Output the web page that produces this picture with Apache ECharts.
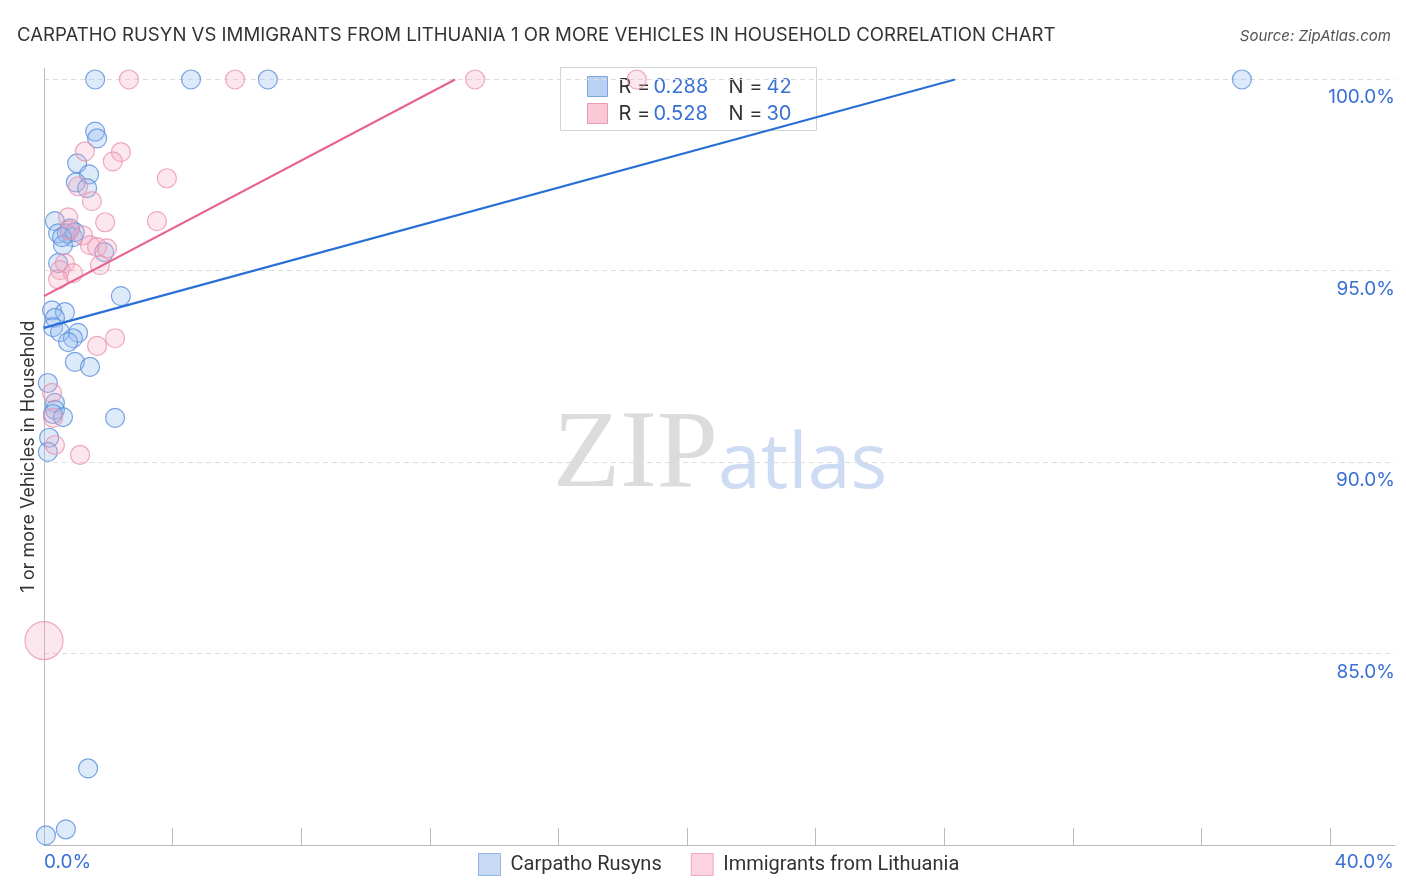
<!DOCTYPE html>
<html>
<head>
<meta charset="utf-8">
<script src="https://cdn.jsdelivr.net/npm/echarts@6/dist/echarts.min.js"></script>
<style>html,body{margin:0;padding:0;background:#fff}#c{width:1406px;height:892px}</style>
</head>
<body>
<div id="c"></div>
<script>
const seriesNames = ['Carpatho Rusyns', 'Immigrants from Lithuania'];
const blueX = [1.59,4.57,6.96,37.24,1.59,1.65,1.03,1.40,0.99,1.34,0.34,0.44,0.81,0.71,0.90,0.59,1.87,0.44,2.39,0.25,0.65,0.34,0.28,0.50,1.06,0.90,0.75,0.96,1.43,0.12,0.34,0.34,0.28,0.59,2.21,0.16,0.12,1.37,0.68,0.06,0.96,0.56];
const blueY = [100,100,100,100,98.64,98.46,97.81,97.52,97.31,97.16,96.30,95.98,96.11,95.98,95.88,95.67,95.49,95.20,94.34,93.97,93.92,93.77,93.53,93.40,93.38,93.24,93.14,92.62,92.49,92.07,91.55,91.37,91.26,91.18,91.16,90.64,90.27,82.00,80.41,80.25,96.01,95.88];
const pinkX = [2.64,5.94,13.40,18.43,1.27,2.39,2.14,3.82,1.06,1.49,0.75,3.51,1.90,0.78,1.21,1.43,1.65,1.96,1.74,0.65,0.50,0.90,0.44,1.65,2.21,0.25,0.28,0.34,1.12,0.0];
const pinkY = [100,100,100,100,98.12,98.10,97.86,97.42,97.21,96.82,96.40,96.30,96.27,96.06,95.93,95.67,95.62,95.59,95.15,95.20,95.02,94.94,94.78,93.04,93.24,91.81,91.16,90.45,90.19,85.34];
const pinkBig = [29]; // index of the large bubble
const blueFitX = [0, 28.32], blueFitY = [93.51, 100];
const pinkFitX = [0, 12.78], pinkFitY = [94.34, 100];
const yTicks = [80, 85, 90, 95, 100];
const yTickLabels = ['', '85.0%', '90.0%', '95.0%', '100.0%'];
const xTickLabels = ['0.0%', '40.0%'];
const statsR = ['0.288', '0.528'];
const statsN = ['42', '30'];

const BLUE = '#3a70d4';
const zip = (xs, ys) => xs.map((x, i) => [x, ys[i]]);

const chart = echarts.init(document.getElementById('c'), null, {renderer: 'canvas'});
const font = 'Inter, Roboto, "DejaVu Sans", sans-serif';

const option = {
  animation: false,
  backgroundColor: '#fff',
  textStyle: {fontFamily: font},
  title: [
    {text: 'CARPATHO RUSYN VS IMMIGRANTS FROM LITHUANIA 1 OR MORE VEHICLES IN HOUSEHOLD CORRELATION CHART',
     left: 12, top: 21, textStyle: {fontSize: 18.6, fontWeight: 'normal', color: '#333', fontFamily: font}},
    {text: 'Source: ZipAtlas.com', right: 10, top: 24,
     textStyle: {fontSize: 15, fontWeight: 'normal', fontStyle: 'italic', color: '#555', fontFamily: font}}
  ],
  legend: {
    left: 473, top: 848, itemWidth: 22, itemHeight: 22, itemGap: 29,
    icon: 'rect',
    textStyle: {fontSize: 20, color: '#333', fontFamily: 'Roboto, sans-serif', padding: [0, 0, 0, 5]},
    data: [
      {name: seriesNames[0], itemStyle: {color: '#b9d1f3', borderColor: '#7fa6e2', borderWidth: 1}},
      {name: seriesNames[1], itemStyle: {color: '#fbc8d8', borderColor: '#eb9ab4', borderWidth: 1}}
    ]
  },
  grid: [
    {left: 44, right: 11, top: 68, bottom: 47},
    {left: 44, right: 11, top: 79, bottom: 47},
    {left: 44, right: 76, top: 68, bottom: 47}
  ],
  xAxis: [
    {gridIndex: 0, type: 'value', min: 0, max: 42, axisLine: {show: true, lineStyle: {color: '#bbb', width: 1}},
     axisTick: {show: false}, axisLabel: {show: false}, splitLine: {show: false}},
    {gridIndex: 1, type: 'value', min: 0, max: 42, show: false},
    {gridIndex: 2, type: 'value', min: 0, max: 40, interval: 4, axisLine: {show: false},
     axisTick: {show: true, inside: true, length: 17, lineStyle: {color: '#bbb', width: 1}},
     axisLabel: {show: false}, splitLine: {show: false}}
  ],
  yAxis: [
    {gridIndex: 0, type: 'value', min: 80, max: 100.3, axisLine: {show: true, lineStyle: {color: '#bbb', width: 1}},
     axisTick: {show: false}, axisLabel: {show: false}, splitLine: {show: false},
     name: '1 or more Vehicles in Household', nameLocation: 'middle', nameGap: 6, nameRotate: 90,
     nameTextStyle: {fontSize: 18, color: '#333', fontFamily: font}},
    {gridIndex: 1, type: 'value', position: 'right', min: 80, max: 100, interval: 5,
     axisLine: {show: false}, axisTick: {show: false},
     splitLine: {show: true, lineStyle: {color: '#ddd', type: [5, 4], width: 1}},
     axisLabel: {inside: true, margin: 0, fontSize: 19, color: BLUE, verticalAlign: 'top', padding: [9, 0, 0, 0],
       formatter: v => { const i = yTicks.indexOf(v); return i >= 0 ? yTickLabels[i] : ''; }}},
    {gridIndex: 2, type: 'value', min: 80, max: 100.3, show: false}
  ],
  graphic: [
    {type: 'text', left: 553, top: 402, z: 0, style: {text: 'ZIP', fontSize: 110, fontFamily: '"Liberation Serif", "DejaVu Serif", serif', fill: '#dcdcdc'}},
    {type: 'text', left: 718, top: 428, z: 0, style: {text: 'atlas', fontSize: 77, fontFamily: '"Open Sans", sans-serif', fill: '#cddcf2'}},
    {type: 'text', left: 44, top: 853, style: {text: xTickLabels[0], fontSize: 19, fill: BLUE, fontFamily: font}},
    {type: 'text', right: 12, top: 853, style: {text: xTickLabels[1], fontSize: 19, fill: BLUE, fontFamily: font}},
    {type: 'group', left: 560, top: 67, z: 100, children: [
      {type: 'rect', shape: {x: 0, y: 0, width: 256, height: 63}, style: {fill: 'rgba(255,255,255,0.85)', stroke: '#d4d4d4', lineWidth: 1}},
      {type: 'rect', shape: {x: 27, y: 9, width: 20, height: 20}, style: {fill: '#b9d1f3', stroke: '#7fa6e2', lineWidth: 1}},
      {type: 'rect', shape: {x: 27, y: 36, width: 20, height: 20}, style: {fill: '#fbc8d8', stroke: '#eb9ab4', lineWidth: 1}},
      {type: 'text', x: 58, y: 19, style: {text: 'R = ', fontSize: 20, fill: '#333', verticalAlign: 'middle', fontFamily: font}},
      {type: 'text', x: 93, y: 19, style: {text: statsR[0], fontSize: 20, fill: BLUE, verticalAlign: 'middle', fontFamily: font}},
      {type: 'text', x: 168, y: 19, style: {text: 'N = ', fontSize: 20, fill: '#333', verticalAlign: 'middle', fontFamily: font}},
      {type: 'text', x: 206, y: 19, style: {text: statsN[0], fontSize: 20, fill: BLUE, verticalAlign: 'middle', fontFamily: font}},
      {type: 'text', x: 58, y: 46, style: {text: 'R = ', fontSize: 20, fill: '#333', verticalAlign: 'middle', fontFamily: font}},
      {type: 'text', x: 93, y: 46, style: {text: statsR[1], fontSize: 20, fill: BLUE, verticalAlign: 'middle', fontFamily: font}},
      {type: 'text', x: 168, y: 46, style: {text: 'N = ', fontSize: 20, fill: '#333', verticalAlign: 'middle', fontFamily: font}},
      {type: 'text', x: 206, y: 46, style: {text: statsN[1], fontSize: 20, fill: BLUE, verticalAlign: 'middle', fontFamily: font}}
    ]}
  ],
  series: [
    {name: seriesNames[0], type: 'scatter', xAxisIndex: 0, yAxisIndex: 0, symbolSize: 19, clip: false, z: 3,
     itemStyle: {color: 'rgba(150,190,240,0.4)', borderColor: '#5b8fdc', borderWidth: 1.2},
     data: zip(blueX, blueY)},
    {name: seriesNames[1], type: 'scatter', xAxisIndex: 0, yAxisIndex: 0, clip: true, z: 3,
     symbolSize: (v, p) => pinkBig.indexOf(p.dataIndex) >= 0 ? 38 : 19,
     itemStyle: {color: 'rgba(245,170,195,0.35)', borderColor: '#ea93b0', borderWidth: 1.2},
     data: zip(pinkX, pinkY)},
    {name: 'fitBlue', type: 'line', xAxisIndex: 0, yAxisIndex: 0, symbol: 'none', z: 4,
     lineStyle: {color: '#2a6fd6', width: 2.2}, data: zip(blueFitX, blueFitY)},
    {name: 'fitPink', type: 'line', xAxisIndex: 0, yAxisIndex: 0, symbol: 'none', z: 4,
     lineStyle: {color: '#e8628c', width: 2.2}, data: zip(pinkFitX, pinkFitY)}
  ]
};
chart.setOption(option);
</script>
</body>
</html>
